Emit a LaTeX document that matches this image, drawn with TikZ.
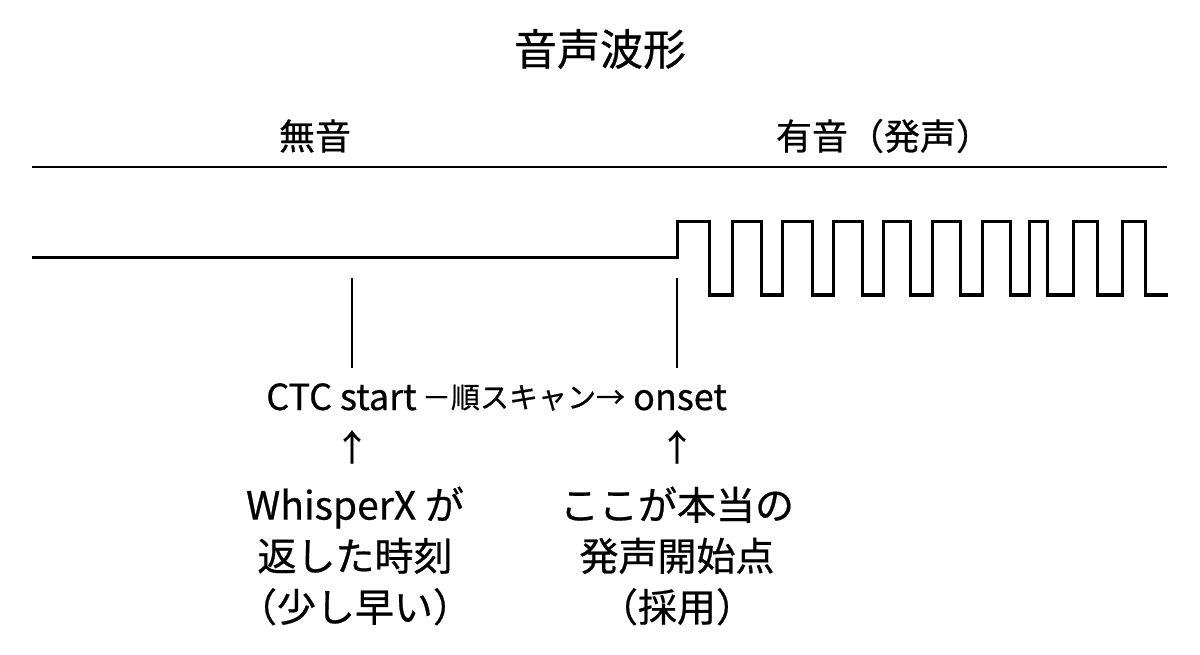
\documentclass[tikz,border=0pt]{standalone}
\usepackage{fontspec}
\setmainfont{Noto Sans CJK JP}[FakeBold=0.6,AutoFakeBold=0]
\tikzset{
  lbl/.style={inner sep=0pt, font=\fontsize{36}{52}\selectfont, align=center},
  big/.style={inner sep=0pt, font=\fontsize{39}{51}\selectfont, align=center},
  ttl/.style={inner sep=0pt, font=\fontsize{43}{50}\selectfont},
  small/.style={inner sep=0pt, font=\fontsize{29}{30}\selectfont},
  wave/.style={line width=3pt, line join=miter},
  rule/.style={line width=2pt},
  tick/.style={line width=1.5pt}
}
\begin{document}
\begin{tikzpicture}[x=1pt,y=-1pt]
\useasboundingbox (0,0) rectangle (1200,655);
\node[ttl] (title) at (600,49) {音声波形};
\node[lbl] (silent) at (315,136) {無音};
\node[lbl] (voiced) at (884,136) {有音（発声）};
\coordinate (r1) at (32,167);
\coordinate (r2) at (1167,167);
\draw[rule] (r1) -- (r2);
% waveform
\coordinate (w0) at (32,258);
\draw[wave] (w0) -- (677,258) -- (677,222) -- (709,222) -- (709,295)
  -- (732,295) -- (732,222) -- (761,222) -- (761,295)
  -- (782,295) -- (782,222) -- (812,222) -- (812,295)
  -- (833,295) -- (833,222) -- (862,222) -- (862,295)
  -- (883,295) -- (883,222) -- (910,222) -- (910,295)
  -- (932,295) -- (932,222) -- (960,222) -- (960,295)
  -- (982,295) -- (982,222) -- (1010,222) -- (1010,295)
  -- (1029,295) -- (1029,222) -- (1047,222) -- (1047,295)
  -- (1073,295) -- (1073,222) -- (1097,222) -- (1097,295)
  -- (1122,295) -- (1122,222) -- (1145,222) -- (1145,295)
  -- (1168,295);
% ticks
\coordinate (t1a) at (352,278);
\coordinate (t1b) at (352,368);
\coordinate (t2a) at (677,278);
\coordinate (t2b) at (677,368);
\draw[tick] (t1a) -- (t1b);
\draw[tick] (t2a) -- (t2b);
% row
\node[lbl, anchor=base] (ctc) at (341.5,410) {CTC start};
\node[small, anchor=base] (scan) at (523.5,408) {－順スキャン→};
\node[lbl, anchor=base] (onset) at (680,410) {onset};
\node[lbl] (up1) at (352,447) {↑};
\node[lbl] (up2) at (677,447) {↑};
\node[big] (whisper) at (355,556) {WhisperX が\\返した時刻\\（少し早い）};
\node[big] (true) at (677,556) {ここが本当の\\発声開始点\\（採用）};
\end{tikzpicture}
\end{document}
